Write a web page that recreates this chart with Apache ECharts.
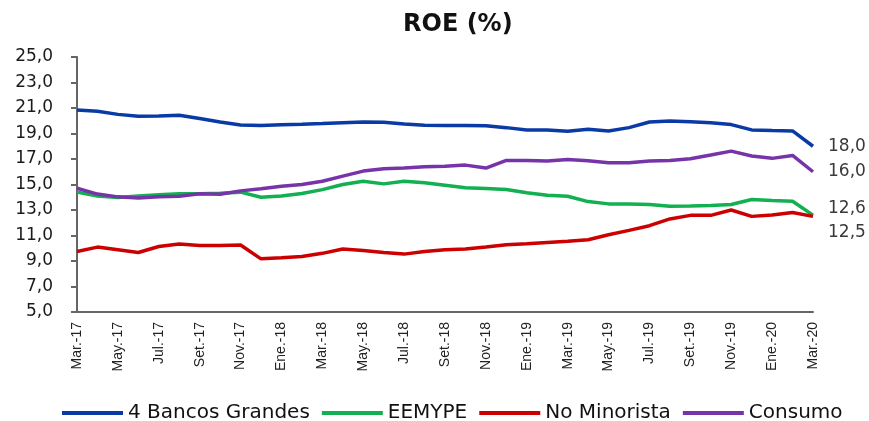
<!DOCTYPE html>
<html>
<head>
<meta charset="utf-8">
<script src="https://cdn.jsdelivr.net/npm/echarts@6/dist/echarts.min.js"></script>
<style>
  html, body { margin: 0; padding: 0; background: #fff; }
  #chart { width: 869px; height: 421px; }
</style>
</head>
<body>
<div id="chart"></div>
<script>
const months = [
  'Mar.-17', 'Abr.-17', 'May.-17', 'Jun.-17', 'Jul.-17', 'Ago.-17', 'Set.-17', 'Oct.-17', 'Nov.-17', 'Dic.-17',
  'Ene.-18', 'Feb.-18', 'Mar.-18', 'Abr.-18', 'May.-18', 'Jun.-18', 'Jul.-18', 'Ago.-18', 'Set.-18', 'Oct.-18',
  'Nov.-18', 'Dic.-18', 'Ene.-19', 'Feb.-19', 'Mar.-19', 'Abr.-19', 'May.-19', 'Jun.-19', 'Jul.-19', 'Ago.-19',
  'Set.-19', 'Oct.-19', 'Nov.-19', 'Dic.-19', 'Ene.-20', 'Feb.-20', 'Mar.-20'
]

const bancosGrandes = [
  20.85, 20.75, 20.5, 20.35, 20.38, 20.43, 20.17, 19.9, 19.67, 19.62,
  19.68, 19.72, 19.78, 19.85, 19.9, 19.88, 19.75, 19.65, 19.62, 19.63,
  19.6, 19.46, 19.28, 19.28, 19.17, 19.33, 19.2, 19.46, 19.9, 19.98,
  19.93, 19.85, 19.7, 19.28, 19.23, 19.2, 18.0
]
const eemype = [
  14.4, 14.1, 13.98, 14.1, 14.19, 14.27, 14.27, 14.32, 14.4, 14.0,
  14.1, 14.3, 14.6, 15.0, 15.26, 15.05, 15.26, 15.13, 14.94, 14.74,
  14.69, 14.6, 14.35, 14.15, 14.08, 13.66, 13.48, 13.48, 13.43, 13.3,
  13.32, 13.35, 13.43, 13.82, 13.74, 13.69, 12.6
]
const noMinorista = [
  9.75, 10.09, 9.88, 9.67, 10.14, 10.33, 10.22, 10.22, 10.25, 9.17,
  9.25, 9.36, 9.6, 9.94, 9.83, 9.67, 9.54, 9.75, 9.88, 9.94,
  10.09, 10.27, 10.35, 10.45, 10.54, 10.67, 11.06, 11.4, 11.77, 12.3,
  12.58, 12.58, 13.0, 12.5, 12.6, 12.8, 12.5
]
const consumo = [
  14.71, 14.25, 14.03, 13.95, 14.03, 14.08, 14.27, 14.24, 14.5, 14.66,
  14.87, 15.0, 15.26, 15.66, 16.05, 16.24, 16.29, 16.39, 16.44, 16.52,
  16.29, 16.89, 16.89, 16.84, 16.97, 16.87, 16.71, 16.71, 16.84, 16.89,
  17.02, 17.31, 17.62, 17.23, 17.05, 17.28, 16.0
]

const fmt = v => v.toFixed(1).replace('.', ',')

function makeLine(name, data, color, endOffset) {
  return {
    name,
    type: 'line',
    data,
    symbol: 'none',
    lineStyle: { color, width: 3.5 },
    itemStyle: { color },
    endLabel: {
      show: true,
      distance: 15,
      offset: endOffset,
      formatter: p => fmt(p.value),
      color: '#3a3a3a',
      fontFamily: 'DejaVu Sans',
      fontSize: 17,
    },
  }
}

const chart = echarts.init(document.getElementById('chart'))
chart.setOption({
  animation: false,
  title: {
    text: 'ROE (%)',
    left: 398,
    top: 8,
    textStyle: { fontFamily: 'DejaVu Sans', fontWeight: 'bold', fontSize: 24, color: '#111' },
  },
  legend: {
    left: 57,
    top: 398,
    icon: 'rect',
    itemWidth: 61,
    itemHeight: 4,
    itemGap: 12,
    textStyle: { fontFamily: 'DejaVu Sans', fontSize: 20, color: '#111' },
    data: ['4 Bancos Grandes', 'EEMYPE', 'No Minorista', 'Consumo'],
  },
  grid: { left: 77, right: 56, top: 57, bottom: 109 },
  xAxis: {
    type: 'category',
    data: months,
    boundaryGap: false,
    axisLine: { lineStyle: { color: '#666', width: 2 } },
    axisTick: { show: false },
    axisLabel: {
      interval: 1,
      rotate: 90,
      margin: 10,
      fontFamily: 'Liberation Sans',
      fontSize: 14,
      color: '#222',
    },
  },
  yAxis: {
    type: 'value',
    min: 5,
    max: 25,
    interval: 2,
    splitLine: { show: false },
    axisLine: { show: true, lineStyle: { color: '#666', width: 2 } },
    axisTick: { show: true, length: 6, lineStyle: { color: '#666', width: 2 } },
    axisLabel: {
      margin: 24,
      formatter: fmt,
      fontFamily: 'DejaVu Sans',
      fontSize: 17,
      color: '#1a1a1a',
    },
  },
  series: [
    makeLine('4 Bancos Grandes', bancosGrandes, '#0a3aa6', [0, 0]),
    makeLine('EEMYPE', eemype, '#12b050', [0, -7]),
    makeLine('No Minorista', noMinorista, '#cc0000', [0, 16]),
    makeLine('Consumo', consumo, '#7634a8', [0, 0]),
  ],
})
</script>
</body>
</html>
